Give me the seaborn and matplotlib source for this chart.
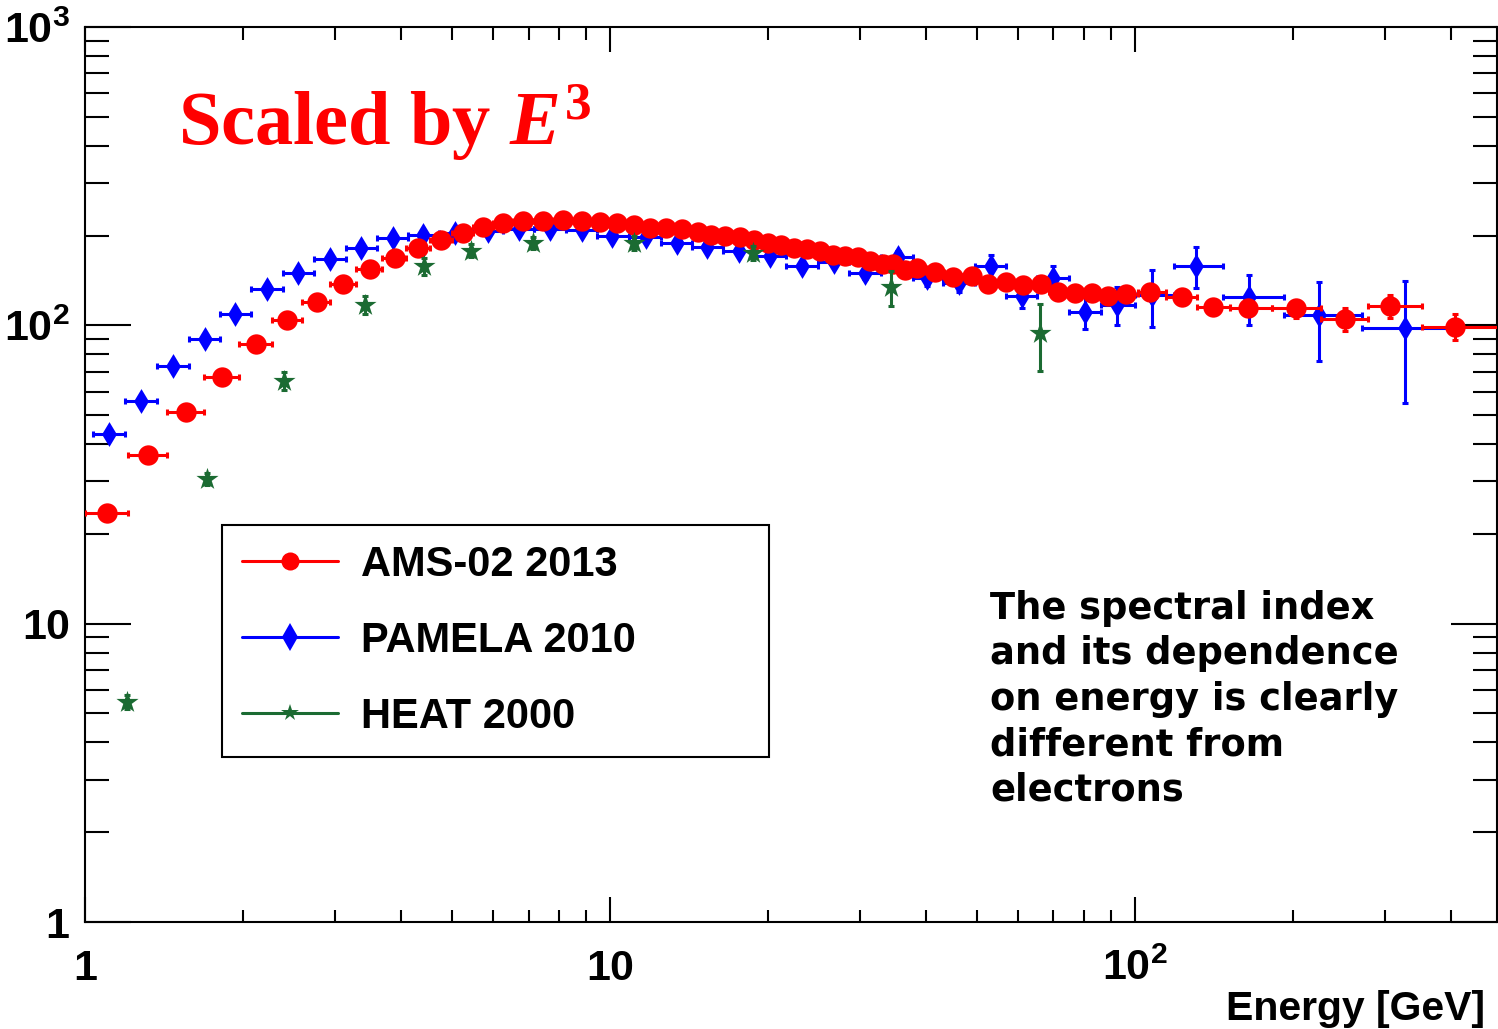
import numpy as np
import pandas as pd
import matplotlib
matplotlib.use('Agg')
import matplotlib.pyplot as plt
from matplotlib.lines import Line2D
from matplotlib.ticker import LogLocator, FuncFormatter, NullFormatter
import seaborn as sns

# positron flux x E^3
ams_e = [1.10, 1.32, 1.56, 1.82, 2.12, 2.43, 2.77, 3.10, 3.49, 3.89,
         4.31, 4.77, 5.25, 5.73, 6.25, 6.83, 7.46, 8.14, 8.84, 9.57,
         10.3, 11.1, 11.9, 12.8, 13.7, 14.7, 15.6, 16.6, 17.7, 18.8,
         20.0, 21.2, 22.4, 23.7, 25.1, 26.6, 28.1, 29.7, 31.3, 33.1,
         34.6, 36.5, 38.4, 41.6, 45.0, 48.9, 52.5, 56.8, 61.2, 66.2,
         71.3, 76.9, 82.8, 88.9, 96.1, 107, 123, 141, 164, 203,
         252, 306, 407]
ams_v = [23.5, 36.8, 51.3, 67.1, 86.6, 104, 120, 138, 154, 168,
         182, 193, 204, 214, 220, 224, 224, 226, 224, 222,
         220, 217, 212, 212, 210, 206, 201, 199, 198, 193,
         189, 186, 182, 180, 177, 172, 171, 169, 164, 161,
         161, 153, 156, 151, 145, 146, 138, 140, 136, 138,
         129, 128, 128, 125, 127, 129, 124, 115, 114, 114,
         105, 116, 99]
ams_err = [0.5, 0.7, 0.9, 1.0, 1.2, 1.4, 1.5, 1.7, 1.8, 1.9,
           2.0, 2.1, 2.2, 2.2, 2.3, 2.3, 2.3, 2.4, 2.4, 2.4,
           2.4, 2.4, 2.4, 2.5, 2.5, 2.5, 2.5, 2.6, 2.6, 2.6,
           2.7, 2.7, 2.8, 2.8, 2.9, 3.0, 3.0, 3.1, 3.2, 3.3,
           3.4, 3.5, 3.6, 3.7, 3.8, 4.0, 4.1, 4.3, 4.5, 4.8,
           5.0, 5.2, 5.5, 5.8, 6.0, 5.0, 5.5, 5.5, 6.0, 8.0,
           9.0, 10.0, 10.0]

pam_e = [1.11, 1.28, 1.47, 1.69, 1.93, 2.22, 2.55, 2.93, 3.36, 3.86,
         4.40, 5.07, 5.85, 6.70, 7.69, 8.84, 10.1, 11.7, 13.4, 15.3,
         17.6, 20.2, 23.2, 26.7, 30.6, 35.4, 40.2, 46.2, 53.2, 60.9,
         69.8, 80.3, 92.4, 108, 131, 165, 224, 327]
pam_v = [43.2, 55.8, 73.1, 90.0, 109, 132, 150, 167, 182, 196,
         201, 204, 207, 211, 210, 209, 199, 198, 189, 183,
         177, 171, 158, 163, 150, 169, 144, 139, 158, 125,
         144, 111, 117, 126, 158, 124, 108, 98]
pam_err = [1.2, 1.4, 1.7, 2.0, 2.3, 2.6, 3.0, 3.3, 3.6, 3.9,
           4.0, 4.1, 4.2, 4.3, 4.4, 4.5, 4.5, 4.6, 4.7, 4.8,
           5.0, 5.5, 6.0, 6.5, 7.0, 8.0, 9.0, 10, 14, 11,
           14, 14, 17, 27, 25, 24, 32, 43]

heat_e = [1.20, 1.71, 2.39, 3.41, 4.42, 5.44, 7.14, 11.1, 18.7, 34.4, 65.9]
heat_v = [5.47, 30.6, 65.1, 117, 158, 178, 189, 189, 175, 134, 94.3]
heat_err = [0.3, 1.5, 4.5, 8, 10, 9, 9, 10, 10, 18, 24]

labels = ['AMS-02 2013', 'PAMELA 2010', 'HEAT 2000']
note = 'The spectral index\nand its dependence\non energy is clearly\ndifferent from\nelectrons'


def bin_halfwidths(centres, lo, hi):
    # bins touch each other half way (in log) between neighbouring points
    c = np.log10(centres)
    edges = np.concatenate([[np.log10(lo)], (c[1:] + c[:-1]) / 2, [np.log10(hi)]])
    e = np.asarray(centres)
    return np.vstack([e - 10 ** edges[:-1], 10 ** edges[1:] - e])


sns.set_style('ticks')
plt.rcParams['font.family'] = ['Liberation Sans', 'DejaVu Sans']
plt.rcParams['text.color'] = 'black'
plt.rcParams['mathtext.fontset'] = 'custom'
plt.rcParams['mathtext.bf'] = 'Liberation Sans:bold'
plt.rcParams['mathtext.it'] = 'Liberation Serif:italic:bold'
plt.rcParams['mathtext.rm'] = 'Liberation Serif:bold'

W, H = 1498, 1029
fig = plt.figure(figsize=(W / 100, H / 100), dpi=100)
ax = fig.add_axes([85 / W, 1 - 922 / H, (1497 - 85) / W, (922 - 27) / H])

red, blue, green = '#ff0000', '#0000ff', '#1b6b32'

# PAMELA
ax.errorbar(pam_e, pam_v, xerr=bin_halfwidths(pam_e, 1.035, 400), yerr=pam_err,
            fmt='none', ecolor=blue, elinewidth=2.2, capsize=2.5, capthick=2.2, zorder=2)
sns.scatterplot(x=pam_e, y=pam_v, marker='d', s=160, color=blue, linewidth=0,
                ax=ax, zorder=3)

# AMS-02
ax.errorbar(ams_e, ams_v, xerr=bin_halfwidths(ams_e, 1.0, 500), yerr=ams_err,
            fmt='none', ecolor=red, elinewidth=2.2, capsize=2.5, capthick=2.2, zorder=4)
sns.scatterplot(x=ams_e, y=ams_v, marker='o', s=215, color=red, linewidth=0,
                ax=ax, zorder=5)

# HEAT
ax.errorbar(heat_e, heat_v, yerr=heat_err, fmt='none', ecolor=green,
            elinewidth=2.2, capsize=2.5, capthick=2.2, zorder=6)
sns.scatterplot(x=heat_e, y=heat_v, marker='*', s=280, color=green, linewidth=0,
                ax=ax, zorder=7)

ax.set_xscale('log')
ax.set_yscale('log')
ax.set_xlim(1, 490)
ax.set_ylim(1, 1000)


def pow_label(v, pos):
    n = int(round(np.log10(v)))
    if n == 0:
        return r'$\mathbf{1}$'
    if n == 1:
        return r'$\mathbf{10}$'
    return r'$\mathbf{10^{%d}}$' % n


for axis in (ax.xaxis, ax.yaxis):
    axis.set_major_locator(LogLocator(base=10, numticks=10))
    axis.set_minor_locator(LogLocator(base=10, subs=np.arange(2, 10), numticks=20))
    axis.set_major_formatter(FuncFormatter(pow_label))
    axis.set_minor_formatter(NullFormatter())

ax.tick_params(which='both', direction='in', top=True, right=True, color='black',
               width=1.5, labelsize=31, labelcolor='black')
ax.tick_params(axis='y', which='major', length=33, pad=11)
ax.tick_params(axis='y', which='minor', length=17)
ax.tick_params(axis='x', which='major', length=18, pad=42)
ax.tick_params(axis='x', which='minor', length=9)
plt.setp(ax.get_xticklabels(), va='baseline')
for s in ax.spines.values():
    s.set_linewidth(1.5)
    s.set_color('black')
ax.set_xlabel('')
ax.set_ylabel('')

handles = [
    Line2D([], [], color=red, lw=2.2, marker='o', markersize=13, markeredgewidth=0),
    Line2D([], [], color=blue, lw=2.2, marker='d', markersize=14, markeredgewidth=0),
    Line2D([], [], color=green, lw=2.2, marker='*', markersize=13, markeredgewidth=0),
]
x0, x1 = (222 - 85) / 1412, (769 - 85) / 1412
yt, yb = (922 - 525) / 895, (922 - 753) / 895
leg = ax.legend(handles, labels, loc='upper left', bbox_to_anchor=(x0, yb, x1 - x0, yt - yb),
                mode='expand', borderaxespad=0, frameon=True, fancybox=False,
                edgecolor='black', framealpha=1, borderpad=0.48, labelspacing=0.86,
                handlelength=2.3, handletextpad=0.55,
                prop={'family': 'Liberation Sans', 'weight': 'bold', 'size': 30})
leg.get_frame().set_linewidth(1.5)
leg.set_zorder(10)
for t in leg.get_texts():
    t.set_color('black')

ax.text((178 - 85) / 1412, (922 - 145) / 895, r'Scaled by $E^{3}$', transform=ax.transAxes,
        family='Liberation Serif', weight='bold', size=55, color=red, va='baseline', ha='left')

ax.text((990 - 85) / 1412, (922 - 590) / 895, note, transform=ax.transAxes,
        family='DejaVu Sans', weight='bold', size=26.5, color='black', va='top', ha='left',
        linespacing=1.29)

fig.text(1485 / W, 1 - 1020 / H, 'Energy [GeV]', ha='right', va='baseline',
         family='Liberation Sans', weight='bold', size=29.5, color='black')

fig.savefig('out.png', dpi=100, facecolor='white')
